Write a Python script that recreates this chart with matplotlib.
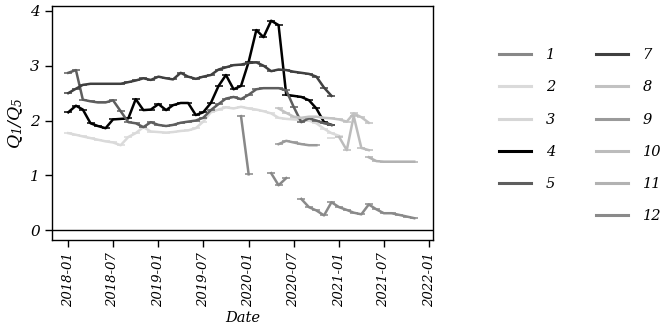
import numpy as np
import pandas as pd
import matplotlib
matplotlib.use("Agg")
import matplotlib.pyplot as plt
import matplotlib.dates as mdates
from matplotlib.lines import Line2D

plt.rcParams['font.family'] = ['DejaVu Serif']
plt.rcParams['font.style'] = 'italic'
plt.rcParams['mathtext.fontset'] = 'custom'
plt.rcParams['mathtext.rm'] = 'DejaVu Serif:italic'
plt.rcParams['mathtext.it'] = 'DejaVu Serif:italic'

months = pd.date_range('2018-01-01', '2021-11-01', freq='MS')  # 47 monthly dates
N = len(months)
nan = np.nan

def series(start, values):
    arr = [nan] * N
    for i, v in enumerate(values):
        arr[start + i] = v
    return arr

# values (start month index, values)
s1 = series(23, [2.08, 1.02, nan, nan, 1.04, 0.82, 0.95])
s2 = series(0, [1.77, 1.74, 1.71, 1.68, 1.65, 1.62, 1.6, 1.55, 1.7, 1.77, 1.88, 1.8,
                1.79, 1.78, 1.79, 1.81, 1.82, 1.86, 1.98, 2.15, 2.2, 2.24, 2.22, 2.25,
                2.22, 2.2, 2.17, 2.13, 2.05, 2.03, 2.02, 2.01, 2.0, 1.95, 1.85, 1.77, 1.72])
s3 = series(35, [1.68])
s4 = series(0, [2.15, 2.27, 2.2, 1.95, 1.9, 1.86, 2.02, 2.03, 2.04, 2.39, 2.19, 2.2,
                2.3, 2.19, 2.28, 2.32, 2.32, 2.1, 2.15, 2.32, 2.63, 2.83, 2.57, 2.63,
                3.07, 3.65, 3.52, 3.82, 3.74, 2.47, 2.45, 2.43, 2.37, 2.22, 1.97, 1.92])
s5 = series(0, [2.87, 2.92, 2.38, 2.35, 2.33, 2.33, 2.37, 2.17, 1.97, 1.95, 1.88, 1.97,
                1.92, 1.9, 1.92, 1.96, 1.98, 2.0, 2.05, 2.19, 2.3, 2.4, 2.43, 2.39,
                2.47, 2.57, 2.59, 2.59, 2.59, 2.55, 2.25, 1.97, 2.04, 2.0, 1.95, 1.92])
s7 = series(0, [2.5, 2.58, 2.65, 2.67, 2.67, 2.67, 2.67, 2.67, 2.7, 2.73, 2.77, 2.74,
                2.8, 2.77, 2.75, 2.87, 2.8, 2.76, 2.8, 2.83, 2.93, 2.97, 3.01, 3.02,
                3.05, 3.06, 3.0, 2.9, 2.93, 2.92, 2.89, 2.87, 2.85, 2.8, 2.6, 2.45])
s8 = series(28, [2.22, 2.14, 2.07, 2.05, 2.07, 2.07, 2.05, 2.04, 2.02, 1.98, 2.13, 2.06, 1.96])
s9 = series(28, [1.57, 1.63, 1.6, 1.57, 1.55, 1.55])
s10 = series(36, [1.7, 1.46, 2.08, 1.5, 1.46])
s11 = series(40, [1.33, 1.26, 1.25, 1.25, 1.25, 1.25, 1.25])
s12 = series(31, [0.57, 0.42, 0.36, 0.27, 0.51, 0.42, 0.37, 0.32, 0.29, 0.47, 0.38,
                  0.31, 0.31, 0.28, 0.25, 0.22])

labels = ['1', '2', '3', '4', '5', '7', '8', '9', '10', '11', '12']
data = [s1, s2, s3, s4, s5, s7, s8, s9, s10, s11, s12]
colors = ['#888888', '#dadada', '#d6d6d6', '#000000', '#5e5e5e', '#404040',
          '#c2c2c2', '#9a9a9a', '#bcbcbc', '#b2b2b2', '#8a8a8a']

fig = plt.figure(figsize=(6.63, 3.28), dpi=100)
ax = fig.add_axes([0.078, 0.268, 0.5755, 0.714])

handles = []
for lab, vals, c in zip(labels, data, colors):
    ax.plot(months, vals, color=c, lw=1.8, marker='_', ms=5.5, mew=1.1, label=lab)
    handles.append(Line2D([0], [0], color=c, lw=2.2))

ax.axhline(0, color='black', lw=1.0)

ax.set_xlim(pd.Timestamp('2017-10-26'), pd.Timestamp('2022-01-17'))
ax.set_ylim(-0.18, 4.09)
ax.set_yticks([0, 1, 2, 3, 4])
ax.xaxis.set_major_locator(mdates.MonthLocator(bymonth=[1, 7]))
ax.xaxis.set_major_formatter(mdates.DateFormatter('%Y-%m'))
ax.tick_params(axis='both', direction='out', length=5, width=1)
ax.tick_params(axis='x', rotation=90, labelsize=9.5)
ax.tick_params(axis='y', labelsize=11)
for sp in ax.spines.values():
    sp.set_linewidth(1.0)

ax.set_xlabel('Date', fontsize=10.5, labelpad=3)
ax.set_ylabel(r'$Q_1/Q_5$', fontsize=12.5, labelpad=4)

# legend: 5 entries in first column, 6 in second (blank slot fills column 1)
blank = Line2D([0], [0], color='none')
leg_handles = handles[:5] + [blank] + handles[5:]
leg_labels = labels[:5] + [''] + labels[5:]
leg = fig.legend(leg_handles, leg_labels, ncol=2, loc='upper left',
                 bbox_to_anchor=(0.733, 0.893), frameon=False, fontsize=10.5,
                 handlelength=2.2, handletextpad=1.0, labelspacing=1.25,
                 columnspacing=2.8)

fig.savefig('out.png', dpi=100)
